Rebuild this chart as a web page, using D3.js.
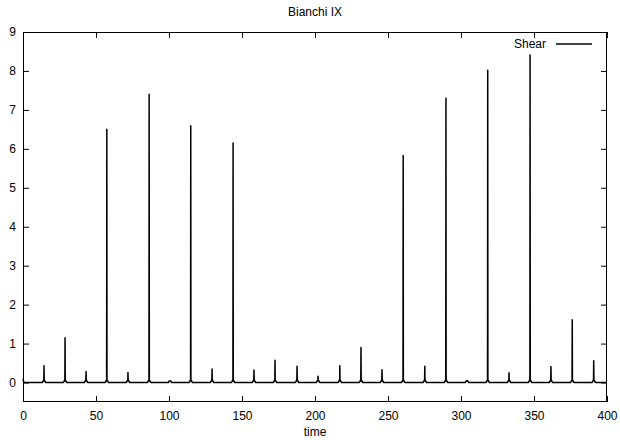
<!DOCTYPE html>
<html><head><meta charset="utf-8">
<script src="https://cdn.jsdelivr.net/npm/d3@7"></script>
<style>body{margin:0;background:#fff}svg{display:block}text{font-family:"Liberation Sans",Arial,sans-serif;font-size:12px;fill:#000}</style>
</head><body><svg id="c" width="620" height="440"></svg>
<script>
const title = "Bianchi IX";
const seriesName = "Shear";
const xLabel = "time";
const xTicks = [0, 50, 100, 150, 200, 250, 300, 350, 400];
const yTicks = [0, 1, 2, 3, 4, 5, 6, 7, 8, 9];
// spike times and peak values of the shear
const spikeTimes = [14.4, 28.8, 43.2, 57.4, 71.9, 86.4, 100.7, 114.9, 129.5, 143.9, 158.2, 172.6, 187.7, 202.1, 217.0, 231.5, 245.9, 260.4, 275.2, 289.7, 304.1, 318.3, 332.9, 347.3, 361.6, 376.2, 390.9];
const spikePeaks = [0.43, 1.15, 0.28, 6.5, 0.26, 7.4, 0.04, 6.59, 0.35, 6.15, 0.32, 0.57, 0.42, 0.16, 0.43, 0.9, 0.33, 5.83, 0.42, 7.30, 0.05, 8.02, 0.25, 8.41, 0.41, 1.61, 0.56];
const startValue = 0.1;

const W = 620, H = 440;
const m = {left: 23, right: 13, top: 32, bottom: 38};
const svg = d3.select("#c");
const x = d3.scaleLinear().domain([0, 400]).range([m.left, W - m.right]);
const y = d3.scaleLinear().domain([-0.5, 9]).range([H - m.bottom, m.top]);

// build line points: baseline with narrow spikes
const pts = [[0, startValue], [0.4, 0.02], [1.0, 0]];
spikeTimes.forEach((t, i) => {
  const h = spikePeaks[i];
  pts.push([t - 1.2, 0], [t - 0.5, Math.min(0.04, h)], [t - 0.12, Math.min(0.08, h)], [t, h], [t + 0.12, Math.min(0.08, h)], [t + 0.5, Math.min(0.04, h)], [t + 1.2, 0]);
});
pts.push([400, 0]);

const tl = 6;
const gx = svg.append("g").attr("transform", `translate(0,${H - m.bottom})`)
  .call(d3.axisBottom(x).tickValues(xTicks).tickSize(-tl).tickFormat(d3.format("d")));
const gxt = svg.append("g").attr("transform", `translate(0,${m.top})`)
  .call(d3.axisTop(x).tickValues(xTicks).tickSize(-tl).tickFormat(""));
const gy = svg.append("g").attr("transform", `translate(${m.left},0)`)
  .call(d3.axisLeft(y).tickValues(yTicks).tickSize(-tl).tickPadding(7).tickFormat(d3.format("d")));
const gyr = svg.append("g").attr("transform", `translate(${W - m.right},0)`)
  .call(d3.axisRight(y).tickValues(yTicks).tickSize(-tl).tickFormat(""));
[gx, gxt, gy, gyr].forEach(g => {
  g.select(".domain").remove();
  g.selectAll("line").attr("stroke", "#000");
  g.selectAll("text").attr("font-size", 12).attr("font-family", "Liberation Sans, Arial, sans-serif");
});
gx.selectAll("text").attr("dy", "0.71em").attr("y", 9);

svg.append("rect").attr("x", m.left + 0.5).attr("y", m.top + 0.5)
  .attr("width", W - m.left - m.right - 1).attr("height", H - m.top - m.bottom - 1)
  .attr("fill", "none").attr("stroke", "#000").attr("stroke-width", 1);

svg.append("path").datum(pts)
  .attr("d", d3.line().x(d => x(d[0])).y(d => y(d[1])))
  .attr("fill", "none").attr("stroke", "#000").attr("stroke-width", 1.5).attr("stroke-linejoin", "round");

svg.append("text").attr("x", (m.left + W - m.right) / 2).attr("y", 16).attr("text-anchor", "middle").text(title);
svg.append("text").attr("x", (m.left + W - m.right) / 2).attr("y", 436).attr("text-anchor", "middle").text(xLabel);
svg.append("text").attr("x", 546).attr("y", 48).attr("text-anchor", "end").text(seriesName);
svg.append("line").attr("x1", 556).attr("x2", 592).attr("y1", 44).attr("y2", 44).attr("stroke", "#000").attr("stroke-width", 1.5);
</script></body></html>
